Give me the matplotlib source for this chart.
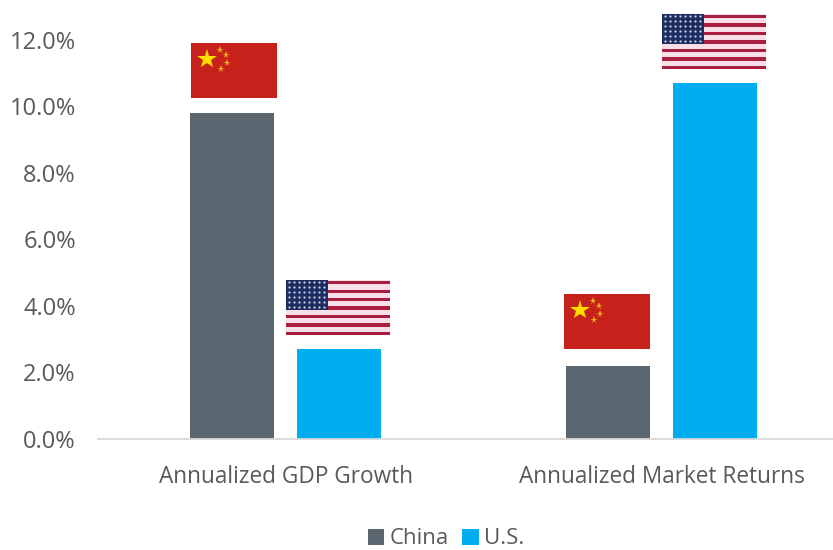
import numpy as np
import matplotlib.pyplot as plt
from matplotlib.patches import Rectangle

plt.rcParams['font.family'] = ['Open Sans', 'DejaVu Sans']

categories = ['Annualized GDP Growth', 'Annualized Market Returns']
china = [9.8, 2.2]
us = [2.7, 10.7]
y_ticks = [0, 2, 4, 6, 8, 10, 12]

grey = '#5B6770'
blue = '#00AEEF'
text_col = '#595959'

W, H = 833, 550
bar_w = 0.2234
china_offset = 0.1437
us_offset = 0.1410


def china_flag(fax):
    fax.add_patch(Rectangle((0, 0), 1, 1, color='#C6211A', lw=0))
    fax.plot([0.186], [0.71], marker='*', ms=15, color='#FFDE00', mew=0)
    for x, y in zip([0.337, 0.407, 0.415, 0.345], [0.87, 0.78, 0.63, 0.52]):
        fax.plot([x], [y], marker='*', ms=5.5, color='#F2B423', mew=0)


def us_flag(fax):
    fax.add_patch(Rectangle((0, 0), 1, 1, color='#F8DEE6', lw=0))
    for i in range(0, 13, 2):
        fax.add_patch(Rectangle((0, i / 13), 1, 1 / 13 * 0.8, color='#A81E3E', lw=0))
    fax.add_patch(Rectangle((0, 6 / 13), 0.40, 7 / 13, color='#1E2D61', lw=0))
    sx, sy = np.meshgrid(np.linspace(0.03, 0.37, 8), np.linspace(0.51, 0.96, 6))
    fax.plot(sx.ravel(), sy.ravel(), ls='', marker='o', ms=1.6, color='#C9D2E6', mew=0)


def add_flag(x, value, w, h, gap, nudge, draw):
    # flags sit a fixed pixel gap above the top of their bar
    px, py = ax.transData.transform((x, value))
    fax = fig.add_axes([(px + nudge - w / 2) / W, (py + gap) / H, w / W, h / H])
    fax.set_xlim(0, 1)
    fax.set_ylim(0, 1)
    fax.axis('off')
    draw(fax)


fig = plt.figure(figsize=(W / 100, H / 100), dpi=100)
ax = fig.add_axes([98 / W, (H - 439) / H, 752 / W, 439 / H])

x = np.arange(len(categories)) + 0.5
b1 = ax.bar(x - china_offset, china, bar_w, color=grey, label='China')
b2 = ax.bar(x + us_offset, us, bar_w, color=blue, label='U.S.')

ax.set_xlim(0, 2)
ax.set_ylim(0, 13.2)
ax.set_yticks(y_ticks)
ax.set_yticklabels(['%.1f%%' % v for v in y_ticks], fontsize=17, color=text_col)
ax.set_xticks(x)
ax.set_xticklabels(categories, fontsize=16.3, color=text_col)
ax.tick_params(axis='y', length=0, pad=16)
ax.tick_params(axis='x', length=0, pad=18.5)
for s in ['top', 'right', 'left']:
    ax.spines[s].set_visible(False)
ax.spines['bottom'].set_color('#D9D9D9')
ax.spines['bottom'].set_linewidth(1.3)

china_gaps = [15, 17]
china_nudges = [2, -1]
for i in range(len(categories)):
    add_flag(x[i] - china_offset, china[i], 86, 55, china_gaps[i], china_nudges[i], china_flag)
    add_flag(x[i] + us_offset, us[i], 104, 55, 14, -1, us_flag)

fig.legend(handles=[b1, b2], loc='center', bbox_to_anchor=(446 / W, (H - 539) / H),
           ncol=2, frameon=False, fontsize=16, labelcolor=text_col,
           handlelength=0.74, handleheight=0.74, handletextpad=0.24, columnspacing=0.6)

fig.savefig('out.png', dpi=100)
